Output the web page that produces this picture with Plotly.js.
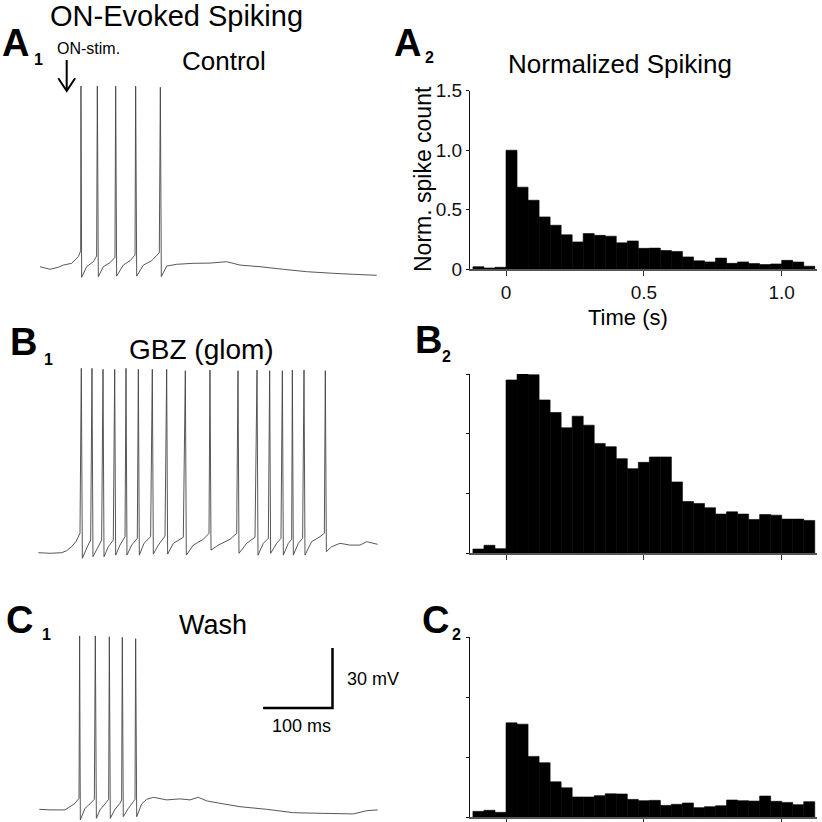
<!DOCTYPE html>
<html>
<head>
<meta charset="utf-8">
<script src="https://cdn.plot.ly/plotly-3.0.1.min.js"></script>
<style>
  html, body { margin: 0; padding: 0; background: #ffffff; }
  #fig { width: 822px; height: 822px; }
</style>
</head>
<body>
<div id="fig"></div>
<script>
// ---- histogram data (40 ms bins, normalized to control peak) ----
const binCenters = [
  -0.10, -0.06, -0.02, 0.02, 0.06, 0.10, 0.14, 0.18, 0.22, 0.26, 0.30, 0.34,
  0.38, 0.42, 0.46, 0.50, 0.54, 0.58, 0.62, 0.66, 0.70, 0.74, 0.78, 0.82,
  0.86, 0.90, 0.94, 0.98, 1.02, 1.06, 1.10
];
const binWidth = 0.04;

const controlCounts = [
  0.022, 0.011, 0.017, 1.0, 0.69, 0.58, 0.44, 0.37, 0.29, 0.23, 0.30, 0.285,
  0.278, 0.222, 0.238, 0.176, 0.178, 0.158, 0.15, 0.104, 0.071, 0.062, 0.094, 0.05,
  0.062, 0.048, 0.04, 0.045, 0.075, 0.061, 0.026
];
const gbzCounts = [
  0.036, 0.067, 0.039, 1.45, 1.5, 1.494, 1.283, 1.178, 1.05, 1.147, 1.072, 0.919,
  0.892, 0.792, 0.708, 0.761, 0.806, 0.806, 0.597, 0.433, 0.417, 0.381, 0.328, 0.347,
  0.328, 0.283, 0.325, 0.319, 0.286, 0.286, 0.275
];
const washCounts = [
  0.047, 0.056, 0.039, 0.786, 0.775, 0.506, 0.453, 0.294, 0.244, 0.167, 0.167, 0.178,
  0.194, 0.192, 0.147, 0.136, 0.139, 0.097, 0.106, 0.117, 0.078, 0.086, 0.094, 0.142,
  0.136, 0.133, 0.175, 0.131, 0.122, 0.103, 0.128
];

const timeTickVals = [0, 0.5, 1.0];
const timeTickText = ["0", "0.5", "1.0"];
const countTickVals = [0, 0.5, 1.0, 1.5];
const countTickText = ["0", "0.5", "1.0", "1.5"];

// ---- voltage traces (ms, mV) ----
const controlT = [
  2.9, 17.3, 29.3, 36.5, 48.5, 58.1, 61.5,
  61.9, 62.9, 70.1, 79.7, 84.5,
  85.5, 86.9, 94.1, 103.7, 110.9,
  111.9, 113.3, 122.9, 132.6, 139.8,
  140.7, 142.2, 151.8, 163.8, 174.8,
  176.3, 177.7, 185.4, 199.8, 223.8, 247.8, 271.8, 291.1, 319.9, 353.5, 387.1, 425.5, 454.4, 488.0
];
const controlV = [
  -60, -61.3, -60.3, -59.2, -58.3, -55, -52,
  30.3, -65.3, -60, -57.5, -54.7,
  30.3, -65, -60, -58, -55.3,
  30.3, -64.7, -59.2, -57, -54.2,
  30.3, -64.7, -59.2, -57, -53,
  29.7, -65, -59.7, -58.8, -58.3, -58.2, -57.5, -59.2, -60, -61.3, -62.5, -63.3, -63.8, -64.3
];

const gbzT = [
  0.5, 17.3, 34.1, 41.3, 48.5, 54.7, 60.5,
  62.4, 63.9, 71.1, 75.9,
  77.8, 79.2, 85.5, 91.7,
  93.7, 95.1, 101.3, 108.5,
  110.5, 111.9, 118.1, 125.4,
  126.8, 128.2, 135.0, 143.1,
  144.6, 146.0, 152.7, 162.3,
  164.7, 166.2, 173.4, 183.0,
  185.4, 186.8, 195.0, 209.4,
  212.3, 213.7, 223.8, 238.2, 246.4,
  247.8, 249.3, 259.8, 276.6, 286.3,
  288.2, 289.6, 300.7, 312.7,
  315.6, 317.0, 324.7, 331.9,
  333.8, 335.2, 343.9, 350.1,
  352.1, 353.5, 360.7, 365.5,
  366.5, 367.9, 375.1, 381.3,
  383.3, 384.7, 394.3, 406.3, 412.6,
  414.0, 415.5, 423.1, 435.2, 449.5, 463.9, 473.6, 489.4
];
const gbzV = [
  -60, -60.3, -60, -59, -57, -54.5, -50.3,
  32.2, -62.8, -57, -53.7,
  32.2, -62, -57.8, -53.7,
  31.7, -62, -57, -53.7,
  31.7, -61.2, -56.2, -52,
  32.2, -61.2, -56.2, -52.8,
  31.7, -61.2, -55.3, -52,
  31.7, -60.7, -56.2, -51.7,
  31.7, -60.7, -55.3, -52.3,
  31, -61.2, -56.2, -53.3, -50.3,
  31.3, -58.7, -56.2, -53.3, -50.3,
  31, -60.3, -55.3, -52.3,
  31.3, -61.2, -55.3, -52.8,
  31, -60.3, -55.3, -52.8,
  31, -61.2, -55.3, -53.3,
  31.3, -61.2, -55.3, -52.8,
  31.3, -61.2, -54.5, -52, -50.3,
  31, -59.5, -57, -55.3, -56.2, -56.2, -54.5, -55.8
];

const washT = [
  1.9, 17.3, 38.9, 46.1, 53.3, 59.1,
  60.0, 61.0, 67.7, 74.9, 81.2,
  82.6, 84.1, 89.3, 96.5, 101.8,
  102.8, 104.2, 110.9, 118.1, 120.5,
  121.5, 122.9, 130.2, 137.4, 139.8,
  140.7, 142.2, 149.4, 156.6, 166.2, 185.4, 204.6, 219.0, 231.0, 243.0, 262.2,
  291.0, 329.5, 367.9, 406.3, 454.4, 473.6, 489.4
];
const washV = [
  -60, -60.3, -60.3, -58.7, -57, -54.5,
  26.7, -65.3, -59.5, -57.3, -55,
  26.7, -64.5, -60.3, -57.3, -55,
  26.3, -64.5, -60, -57, -55.3,
  26, -63.7, -59.5, -56.2, -55,
  25.3, -63.7, -57.3, -55, -54, -55.3, -54.8, -55.3, -54, -55.8, -57,
  -58.7, -60, -61.7, -62, -62.3, -60.7, -60.3
];

const scaleBarMs = 100;
const scaleBarMv = 30;

// ---- page geometry ----
const W = 822;
const H = 822;
const FONT = "Liberation Sans, Arial, Helvetica, sans-serif";
const MS_PER_PX = 100 / 69.4;
const MV_PER_PX = 0.5;
const REST_MV = -60;

const domX = (left, right) => [left / W, right / W];
const domY = (top, bottom) => [1 - bottom / H, 1 - top / H];
const px = (x) => x / W;
const py = (y) => 1 - y / H;

const traceLeft = 38;
const traceRight = 378;

function traceAxes(top, bottom, restPx) {
  return {
    x: {
      domain: domX(traceLeft, traceRight),
      range: [0, (traceRight - traceLeft) * MS_PER_PX],
      visible: false,
      fixedrange: true
    },
    y: {
      domain: domY(top, bottom),
      range: [REST_MV - (bottom - restPx) * MV_PER_PX, REST_MV + (restPx - top) * MV_PER_PX],
      visible: false,
      fixedrange: true
    }
  };
}

function histAxes(top, bottom, labelled) {
  return {
    x: {
      domain: domX(470, 816.7),
      range: [-0.1306, 1.127],
      tickmode: "array",
      tickvals: timeTickVals,
      ticktext: timeTickText,
      showticklabels: labelled,
      ticks: "outside",
      ticklen: 5,
      tickwidth: 1,
      tickcolor: "#333333",
      showline: true,
      linecolor: "#555555",
      linewidth: 1.5,
      showgrid: false,
      zeroline: false,
      tickfont: { family: FONT, size: 19, color: "#111111" },
      fixedrange: true
    },
    y: {
      domain: domY(top, bottom),
      range: [0, 1.5],
      tickmode: "array",
      tickvals: countTickVals,
      ticktext: countTickText,
      showticklabels: labelled,
      ticks: "outside",
      ticklen: 3,
      tickwidth: 1,
      tickcolor: "#111111",
      showline: true,
      linecolor: "#111111",
      linewidth: 1,
      showgrid: false,
      zeroline: false,
      tickfont: { family: FONT, size: 19, color: "#111111" },
      fixedrange: true
    }
  };
}

const panels = [
  traceAxes(75, 290, 266.7),      // A1
  histAxes(90.7, 269.3, true),    // A2
  traceAxes(360, 575, 552.7),     // B1
  histAxes(374, 553.3, false),    // B2
  traceAxes(600, 822, 809.3),     // C1
  histAxes(637.3, 817, false)     // C2
];

const layout = {
  width: W,
  height: H,
  margin: { l: 0, r: 0, t: 0, b: 0 },
  paper_bgcolor: "#ffffff",
  plot_bgcolor: "rgba(0,0,0,0)",
  showlegend: false,
  bargap: 0,
  font: { family: FONT, color: "#111111" }
};

panels.forEach((p, i) => {
  const n = i === 0 ? "" : String(i + 1);
  layout["xaxis" + n] = { ...p.x, anchor: "y" + n };
  layout["yaxis" + n] = { ...p.y, anchor: "x" + n };
});

const traceLine = { color: "#444444", width: 0.9, simplify: false };

const voltageTrace = (t, v, n) => ({
  type: "scatter",
  mode: "lines",
  x: t,
  y: v,
  xaxis: "x" + n,
  yaxis: "y" + n,
  line: traceLine,
  hoverinfo: "skip"
});

const histTrace = (counts, n) => ({
  type: "bar",
  x: binCenters,
  y: counts,
  width: binWidth,
  xaxis: "x" + n,
  yaxis: "y" + n,
  marker: { color: "#000000", line: { color: "#000000", width: 0.6 } },
  hoverinfo: "skip"
});

// scale bar sits in the wash panel, corner at page pixel (332.5, 708)
const barCornerT = (332.5 - traceLeft) * MS_PER_PX;
const barCornerV = REST_MV + (809.3 - 708) * MV_PER_PX;
const scaleBar = {
  type: "scatter",
  mode: "lines",
  x: [barCornerT - scaleBarMs, barCornerT, barCornerT],
  y: [barCornerV, barCornerV, barCornerV + scaleBarMv],
  xaxis: "x5",
  yaxis: "y5",
  line: { color: "#000000", width: 2.5 },
  hoverinfo: "skip"
};

const data = [
  voltageTrace(controlT, controlV, ""),
  histTrace(controlCounts, "2"),
  voltageTrace(gbzT, gbzV, "3"),
  histTrace(gbzCounts, "4"),
  voltageTrace(washT, washV, "5"),
  histTrace(washCounts, "6"),
  scaleBar
];

// text helper: x/y in page pixels, y is the visual middle of the capitals
function txt(text, x, y, size, xanchor, extra) {
  return {
    xref: "paper",
    yref: "paper",
    x: px(x),
    y: py(y),
    text: text,
    showarrow: false,
    xanchor: xanchor || "center",
    yanchor: "middle",
    font: { family: FONT, size: size, color: "#000000" },
    ...(extra || {})
  };
}

layout.annotations = [
  txt("ON-Evoked Spiking", 48, 16, 29, "left"),
  txt("ON-stim.", 88.3, 49, 16),
  txt("Control", 224, 61, 26),
  txt("Normalized Spiking", 620, 64, 26),
  txt("GBZ (glom)", 201.7, 349, 28),
  txt("Wash", 213.3, 625, 27),
  txt("30 mV", 345, 679, 18, "left"),
  txt("100 ms", 301.7, 726, 18),
  txt("Time (s)", 628, 317, 22),
  txt("Norm. spike count", 423, 179, 23, "center", { textangle: -90 }),

  txt("<b>A</b>", 0, 43, 38, "left"),
  txt("<b>1</b>", 31.5, 59.5, 16, "left"),
  txt("<b>A</b>", 392, 43, 38, "left"),
  txt("<b>2</b>", 423, 57.5, 16, "left"),
  txt("<b>B</b>", 8, 342, 38, "left"),
  txt("<b>1</b>", 41.5, 359, 16, "left"),
  txt("<b>B</b>", 413, 340, 38, "left"),
  txt("<b>2</b>", 440, 356.5, 16, "left"),
  txt("<b>C</b>", 4, 620, 38, "left"),
  txt("<b>1</b>", 39.5, 634.5, 16, "left"),
  txt("<b>C</b>", 420, 620, 38, "left"),
  txt("<b>2</b>", 450, 634, 16, "left")
];

// stimulus arrow
const arrowX = 66.7;
layout.shapes = [
  {
    type: "path",
    xref: "paper",
    yref: "paper",
    path:
      `M ${px(arrowX)},${py(60)} L ${px(arrowX)},${py(91)} ` +
      `M ${px(arrowX - 8.4)},${py(78.3)} L ${px(arrowX)},${py(91)} L ${px(arrowX + 8.4)},${py(78.3)}`,
    line: { color: "#000000", width: 2 }
  }
];

Plotly.newPlot("fig", data, layout, { displayModeBar: false, staticPlot: true });
</script>
</body>
</html>
